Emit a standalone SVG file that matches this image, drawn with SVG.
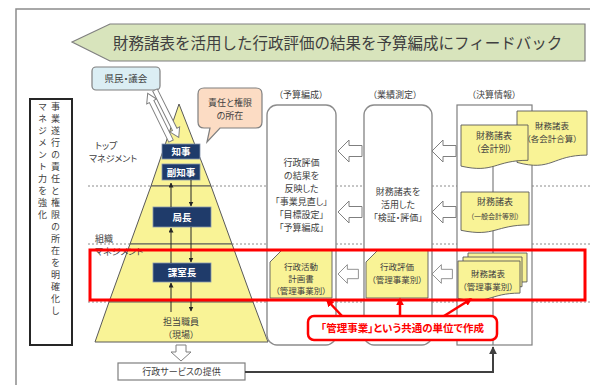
<svg xmlns="http://www.w3.org/2000/svg" width="590" height="385" viewBox="0 0 590 385">
<defs>
<style>
text{font-family:"Noto Sans CJK JP","Noto Sans CJK SC",sans-serif;fill:#404040;font-feature-settings:"palt";}
.t9{font-size:9px;text-anchor:middle;}
.t85{font-size:8.5px;text-anchor:middle;}
.lbl{font-size:9px;text-anchor:middle;}
.side{font-size:9px;}
.vt{font-size:9px;letter-spacing:3px;writing-mode:vertical-rl;font-feature-settings:normal;}
.navy{fill:#1f3b6a;stroke:#8796b0;stroke-width:0.8;}
.nt{font-size:9.5px;font-weight:bold;fill:#ffffff;text-anchor:middle;}
.pyr{fill:#f9f396;stroke:#595959;stroke-width:1;}
.doc{fill:#f9f396;stroke:#595959;stroke-width:0.9;}
.col{fill:#ffffff;stroke:#8c8c8c;stroke-width:1.4;}
.ha{fill:#ffffff;stroke:#7f7f7f;stroke-width:1;}
.dash{stroke:#8c8c8c;stroke-width:1;stroke-dasharray:2 2;fill:none;}
.thin{stroke:#262626;stroke-width:1;fill:none;}
.red{stroke:#ff0000;stroke-width:2.5;fill:none;}
</style>
<marker id="ah" viewBox="0 0 10 10" refX="9" refY="5" markerWidth="5" markerHeight="5" orient="auto-start-reverse">
<path d="M0,0 L10,5 L0,10 Z" fill="#262626"/>
</marker>
<marker id="ahg" viewBox="0 0 10 10" refX="9" refY="5" markerWidth="4" markerHeight="4" orient="auto">
<path d="M0,0 L10,5 L0,10 Z" fill="#404040"/>
</marker>
<marker id="ahr" viewBox="0 0 10 10" refX="8" refY="5" markerWidth="3.2" markerHeight="3.2" orient="auto">
<path d="M0,0 L10,5 L0,10 Z" fill="#ff0000"/>
</marker>
<path id="hleft" d="M0,0 L11,-11 V-5.5 H24 V5.5 H11 V11 Z"/>
<path id="hthin" d="M0,-2.5 H44 V-5.5 L53,0 L44,5.5 V2.5 H0 Z"/>
</defs>

<rect x="16" y="9" width="600" height="400" fill="#ffffff" stroke="#8c8c8c" stroke-width="1.5"/>

<g id="banner">
<polygon points="72,42 110,24 585,24 585,61 110,61" fill="#d8e4bc" stroke="#7f7f7f" stroke-width="1.2"/>
<text x="113" y="48.5" style="font-size:15.5px;font-feature-settings:normal">財務諸表を活用した行政評価の結果を予算編成にフィードバック</text>
</g>

<g id="side-box">
<rect x="30" y="99" width="42" height="246" fill="#ffffff" stroke="#262626" stroke-width="2"/>
<text class="vt" x="55.5" y="102">事業遂行の責任と権限の所在を明確化し</text>
<text class="vt" x="42.5" y="102">マネジメント力を強化</text>
</g>

<g id="guides">
<line class="dash" x1="88" y1="186" x2="590" y2="186"/>
<line class="dash" x1="88" y1="244" x2="590" y2="244"/>
<line class="dash" x1="88" y1="302" x2="590" y2="302"/>
</g>

<g id="pyramid">
<polygon class="pyr" points="179,104 151,186 211,186"/>
<polygon class="pyr" points="151,186 211,186 232,244 130,244"/>
<polygon class="pyr" points="130,244 232,244 253,302 109,302"/>
<polygon class="pyr" points="109,302 253,302 268,342 95,342"/>
</g>

<g id="citizens">
<rect x="92" y="67" width="68" height="23" rx="4" fill="#dbeef4" stroke="#7f7f7f" stroke-width="1.2"/>
<text x="126" y="82" style="font-size:9.5px;text-anchor:middle">県民・議会</text>
</g>

<g id="responsibility">
<path d="M204,88 H256 Q262,88 262,94 V122 Q262,128 256,128 H220 L207,142 L210,128 H204 Q198,128 198,122 V94 Q198,88 204,88 Z" fill="#fcdcc4" stroke="#7f7f7f" stroke-width="1.2"/>
<text class="t9" x="230" y="106"><tspan x="230">責任と権限</tspan><tspan x="230" dy="13">の所在</tspan></text>
</g>

<g id="accountability-arrows">
<use href="#hthin" class="ha" transform="translate(171,141) rotate(-116.1)"/>
<use href="#hthin" class="ha" transform="translate(155,90) rotate(63.4)"/>
</g>

<g id="top-label">
<text class="side" x="95" y="149"><tspan x="95">トップ</tspan><tspan x="89" dy="13">マネジメント</tspan></text>
</g>
<g id="org-label">
<text class="side" x="95" y="241.5"><tspan x="95">組織</tspan><tspan x="95" dy="13">マネジメント</tspan></text>
</g>

<g id="chiji"><rect class="navy" x="162" y="144" width="38" height="15"/><text class="nt" x="181" y="155">知事</text></g>
<g id="fukuchiji"><rect class="navy" x="162" y="164" width="38" height="16"/><text class="nt" x="181" y="175.5">副知事</text></g>
<g id="kyokucho"><rect class="navy" x="153" y="207" width="58" height="20"/><text class="nt" x="182" y="220.5">局長</text></g>
<g id="kashitsucho"><rect class="navy" x="153" y="263" width="58" height="19"/><text class="nt" x="182" y="276">課室長</text></g>
<g id="staff">
<text class="lbl" x="181" y="324.5"><tspan x="181">担当職員</tspan><tspan x="181" dy="13">（現場）</tspan></text>
</g>

<g id="service">
<rect x="118" y="363" width="127" height="17" fill="#ffffff" stroke="#7f7f7f" stroke-width="1.2"/>
<text class="lbl" x="181.5" y="375">行政サービスの提供</text>
</g>

<g id="budget">
<text class="lbl" x="301" y="98">（予算編成）</text>
<rect class="col" x="267" y="105" width="69" height="240" rx="10"/>
<text class="t9" x="301.5" y="165.5"><tspan x="301.5">行政評価</tspan><tspan x="301.5" dy="13">の結果を</tspan><tspan x="301.5" dy="13">反映した</tspan><tspan x="301.5" dy="13">「事業見直し」</tspan><tspan x="301.5" dy="13">「目標設定」</tspan><tspan x="301.5" dy="13">「予算編成」</tspan></text>
</g>

<g id="performance">
<text class="lbl" x="395" y="98">（業績測定）</text>
<rect class="col" x="364" y="105" width="68" height="240" rx="10"/>
<text class="t9" x="398" y="195"><tspan x="398">財務諸表を</tspan><tspan x="398" dy="13">活用した</tspan><tspan x="398" dy="13">「検証・評価」</tspan></text>
</g>

<g id="settlement">
<text class="lbl" x="494" y="98">（決算情報）</text>
<rect x="457" y="105" width="75" height="240" fill="#ffffff" stroke="#7f7f7f" stroke-width="1.2"/>
<line x1="493" y1="160" x2="493" y2="345" stroke="#7f7f7f" stroke-width="1.2"/>
</g>

<g id="fs-total">
<path class="doc" d="M517,111 H587 V155.1 C552,155.1 552,171.9 517,162.4 Z"/>
<text class="t85" x="552" y="128.5"><tspan x="552">財務諸表</tspan><tspan x="552" dy="13">（各会計合算）</tspan></text>
</g>
<g id="fs-account">
<path class="doc" d="M461,125 H528 V160.3 C494.5,160.3 494.5,173.7 461,166.1 Z"/>
<text class="t9" x="494" y="139"><tspan x="494">財務諸表</tspan><tspan x="494" dy="13">（会計別）</tspan></text>
</g>
<g id="fs-general">
<path class="doc" d="M461,192 H529 V224.9 C495,224.9 495,237.4 461,230.3 Z"/>
<text x="495" y="205" style="text-anchor:middle"><tspan x="495" style="font-size:9px">財務諸表</tspan><tspan x="495" dy="14" style="font-size:7px">（一般会計等別）</tspan></text>
</g>
<g id="fs-project">
<path class="doc" d="M468,253 H527 V281.9 C497.5,281.9 497.5,292.9 468,286.6 Z"/>
<path class="doc" d="M463,257 H522 V286.7 C492.5,286.7 492.5,298 463,291.6 Z"/>
<path class="doc" d="M458,261 H520 V293.1 C489,293.1 489,305.3 458,298.4 Z"/>
<text class="t85" x="488" y="277"><tspan x="488">財務諸表</tspan><tspan x="488" dy="13">（管理事業別）</tspan></text>
</g>

<g id="plan-doc">
<polygon class="doc" points="282,250 332,250 332,298 270,298 270,262"/>
<text class="t85" x="301" y="269.5"><tspan x="301">行政活動</tspan><tspan x="301" dy="12.4">計画書</tspan><tspan x="301" dy="12.4">（管理事業別）</tspan></text>
</g>
<g id="eval-doc">
<polygon class="doc" points="378,250 428,250 428,298 366,298 366,262"/>
<text class="t85" x="397" y="270"><tspan x="397">行政評価</tspan><tspan x="397" dy="12.5">（管理事業別）</tspan></text>
</g>

<g id="connectors">
<use href="#hleft" class="ha" transform="translate(338,151)"/>
<use href="#hleft" class="ha" transform="translate(338,212)"/>
<use href="#hleft" class="ha" transform="translate(338,274) scale(0.85)"/>
<use href="#hleft" class="ha" transform="translate(432,151)"/>
<use href="#hleft" class="ha" transform="translate(432,212)"/>
<use href="#hleft" class="ha" transform="translate(432,274) scale(0.85)"/>
<path d="M171,207 V183" class="thin" marker-end="url(#ah)"/>
<path d="M191,180 V206" class="thin" marker-end="url(#ah)"/>
<path d="M171,263 V228" class="thin" marker-end="url(#ah)"/>
<path d="M191,227 V262" class="thin" marker-end="url(#ah)"/>
<path d="M171,312 V283" class="thin" marker-end="url(#ah)"/>
<path d="M191,282 V311" class="thin" marker-end="url(#ah)"/>
<path d="M176,345 H186 V352 H191 L181,361 L171,352 H176 Z" class="ha"/>
<polyline points="245,372 493,372 493,347" fill="none" stroke="#404040" stroke-width="2" marker-end="url(#ahg)"/>
</g>

<rect id="highlight" x="90" y="250" width="495" height="50" fill="none" stroke="#ff0000" stroke-width="3"/>

<g id="callout">
<rect x="308" y="316" width="189" height="24" rx="6" fill="#ffffff" stroke="#ff0000" stroke-width="2.5"/>
<text x="402.5" y="332" style="font-size:10.5px;font-weight:bold;fill:#ff0000;text-anchor:middle">「管理事業」という共通の単位で作成</text>
<path class="red" d="M342,316 L327,300" marker-end="url(#ahr)"/>
<path class="red" d="M400,316 V299" marker-end="url(#ahr)"/>
<path class="red" d="M444,316 L471,299" marker-end="url(#ahr)"/>
</g>
</svg>
